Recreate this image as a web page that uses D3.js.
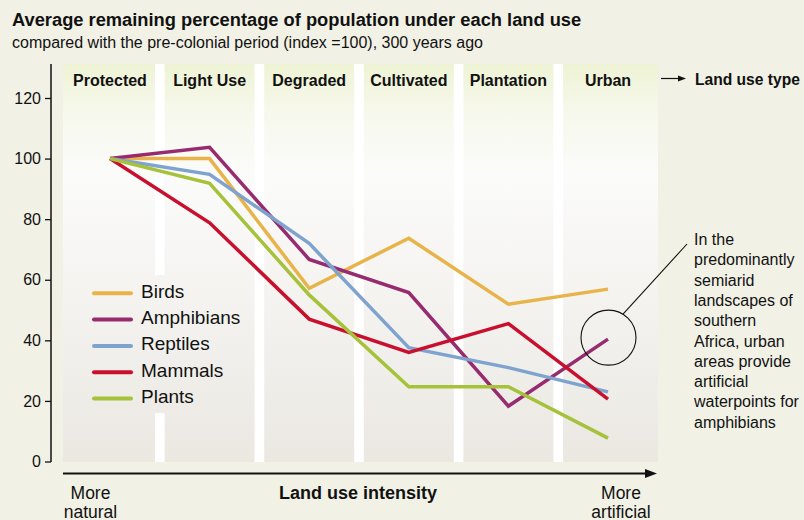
<!DOCTYPE html>
<html>
<head>
<meta charset="utf-8">
<script src="https://cdn.jsdelivr.net/npm/d3@7"></script>
<style>
  body { margin: 0; background: #f2f1e6; }
  svg { display: block; font-family: "Liberation Sans", Arial, sans-serif; }
</style>
</head>
<body>
<svg id="chart"></svg>
<script>
// ---- Data
const land_uses = ["Protected", "Light Use", "Degraded", "Cultivated", "Plantation", "Urban"];
const series_names = ["Birds", "Amphibians", "Reptiles", "Mammals", "Plants"];
const series_colors = ["#e8b449", "#962c6f", "#7fa3cf", "#c8102e", "#a5c23a"];
const birds      = [100, 100,   57.2, 73.7, 51.9, 56.9];
const amphibians = [100, 103.7, 66.7, 55.8, 18.3, 40.4];
const reptiles   = [100, 94.8,  72.0, 37.6, 31.0, 23.0];
const mammals    = [100, 78.8,  47.0, 36.0, 45.5, 20.6];
const plants     = [100, 91.8,  55.0, 24.7, 24.7, 7.7];
const series_values = [birds, amphibians, reptiles, mammals, plants];
const y_ticks = [0, 20, 40, 60, 80, 100, 120];
const note_lines = ["In the", "predominantly", "semiarid", "landscapes of", "southern",
                    "Africa, urban", "areas provide", "artificial", "waterpoints for", "amphibians"];

// ---- Dimensions
const width = 804, height = 520;
const plot = { left: 63, right: 658, top: 64, bottom: 462 };

const svg = d3.select("#chart").attr("width", width).attr("height", height);

// Scales
const x_scale = d3.scalePoint().domain(land_uses).range([110, 608]);
const y_scale = d3.scaleLinear().domain([0, 120]).range([461.5, 98]);

// Background gradient for the land use columns
const defs = svg.append("defs");
const grad = defs.append("linearGradient")
    .attr("id", "colgrad")
    .attr("gradientUnits", "userSpaceOnUse")
    .attr("x1", 0).attr("x2", 0)
    .attr("y1", plot.top).attr("y2", plot.bottom);
grad.append("stop").attr("offset", 0).attr("stop-color", "#eef3d4");
grad.append("stop").attr("offset", 0.12).attr("stop-color", "#f7f8ec");
grad.append("stop").attr("offset", 0.28).attr("stop-color", "#fbfbfa");
grad.append("stop").attr("offset", 1).attr("stop-color", "#ebe8e2");

// White plot area, then columns on top (the gaps stay white)
svg.append("rect")
    .attr("x", plot.left).attr("y", plot.top)
    .attr("width", plot.right - plot.left).attr("height", plot.bottom - plot.top)
    .attr("fill", "#ffffff");

const gap = 4.8;
const col_edges = land_uses.map((d, i) => {
    const c = x_scale(d);
    const x0 = i === 0 ? plot.left : (x_scale(land_uses[i - 1]) + c) / 2 + gap;
    const x1 = i === land_uses.length - 1 ? plot.right : (x_scale(land_uses[i + 1]) + c) / 2 - gap;
    return [x0, x1];
});

svg.selectAll("rect.col")
    .data(land_uses)
    .enter()
    .append("rect")
    .attr("class", "col")
    .attr("x", (d, i) => col_edges[i][0])
    .attr("y", plot.top)
    .attr("width", (d, i) => col_edges[i][1] - col_edges[i][0])
    .attr("height", plot.bottom - plot.top)
    .attr("fill", "url(#colgrad)");

// Column labels
svg.selectAll("text.col-label")
    .data(land_uses)
    .enter()
    .append("text")
    .attr("class", "col-label")
    .attr("x", d => x_scale(d))
    .attr("y", 86)
    .attr("text-anchor", "middle")
    .attr("font-size", 16)
    .attr("font-weight", "bold")
    .attr("fill", "#111")
    .text(d => d);

// "Land use type" arrow and label
svg.append("line")
    .attr("x1", 661).attr("x2", 680).attr("y1", 78.5).attr("y2", 78.5)
    .attr("stroke", "#111").attr("stroke-width", 1.2);
svg.append("path")
    .attr("d", "M678,75.5 L686,78.5 L678,81.5 Z")
    .attr("fill", "#111");
svg.append("text")
    .attr("x", 695).attr("y", 85)
    .attr("font-size", 15.6).attr("font-weight", "bold").attr("fill", "#111")
    .text("Land use type");

// Title and subtitle
svg.append("text")
    .attr("x", 12).attr("y", 26)
    .attr("font-size", 18.3).attr("font-weight", "bold").attr("fill", "#111")
    .text("Average remaining percentage of population under each land use");
svg.append("text")
    .attr("x", 12).attr("y", 47.5)
    .attr("font-size", 16).attr("fill", "#111")
    .text("compared with the pre-colonial period (index =100), 300 years ago");

// Y axis
const y_axis = svg.append("g")
    .attr("class", "y axis")
    .attr("transform", "translate(51,0)")
    .call(d3.axisLeft(y_scale).tickValues(y_ticks).tickSize(6).tickPadding(4));
y_axis.select(".domain").remove();
y_axis.selectAll(".tick line").attr("stroke", "#111").attr("stroke-width", 1.3);
y_axis.selectAll(".tick text")
    .attr("font-size", 16)
    .attr("font-family", "Liberation Sans, Arial, sans-serif")
    .attr("fill", "#111");
svg.append("line")
    .attr("x1", 51).attr("x2", 51)
    .attr("y1", plot.top).attr("y2", y_scale(0) + 0.6)
    .attr("stroke", "#111").attr("stroke-width", 1.5);

// Legend background (covers the white gap like in the original)
const legend_y = [293.3, 319.6, 345.9, 372.2, 398.5];
svg.append("rect")
    .attr("x", 150).attr("y", 275)
    .attr("width", 20).attr("height", 138)
    .attr("fill", "url(#colgrad)");

// Lines
const line_gen = d3.line()
    .x((d, i) => x_scale(land_uses[i]))
    .y(d => y_scale(d));

svg.selectAll("path.series")
    .data(series_values)
    .enter()
    .append("path")
    .attr("class", "series")
    .attr("d", line_gen)
    .attr("fill", "none")
    .attr("stroke", (d, i) => series_colors[i])
    .attr("stroke-width", 3.5)
    .attr("stroke-linejoin", "miter");

// Legend
const legend = svg.append("g").attr("class", "legend");
legend.selectAll("line")
    .data(series_names)
    .enter()
    .append("line")
    .attr("x1", 94).attr("x2", 131)
    .attr("y1", (d, i) => legend_y[i]).attr("y2", (d, i) => legend_y[i])
    .attr("stroke", (d, i) => series_colors[i])
    .attr("stroke-width", 4)
    .attr("stroke-linecap", "round");
legend.selectAll("text")
    .data(series_names)
    .enter()
    .append("text")
    .attr("x", 141)
    .attr("y", (d, i) => legend_y[i] + 4.5)
    .attr("font-size", 19)
    .attr("fill", "#111")
    .text(d => d);

// Annotation circle and leader line
const urban_x = x_scale("Urban"), urban_y = y_scale(amphibians[5]);
const r = 27.5;
svg.append("circle")
    .attr("cx", urban_x + 0.5).attr("cy", urban_y - 1.5).attr("r", r)
    .attr("fill", "none").attr("stroke", "#111").attr("stroke-width", 1.1);
svg.append("line")
    .attr("x1", urban_x + 15).attr("y1", urban_y - 25)
    .attr("x2", 687).attr("y2", 244)
    .attr("stroke", "#111").attr("stroke-width", 1.1);

svg.append("g").selectAll("text")
    .data(note_lines)
    .enter()
    .append("text")
    .attr("x", 694)
    .attr("y", (d, i) => 245 + i * 20.3)
    .attr("font-size", 16)
    .attr("fill", "#111")
    .text(d => d);

// X axis (land use intensity arrow)
svg.append("line")
    .attr("x1", plot.left).attr("x2", 648)
    .attr("y1", 473.5).attr("y2", 473.5)
    .attr("stroke", "#111").attr("stroke-width", 1.8);
svg.append("path")
    .attr("d", "M645,469 L657,473.5 L645,478 Z")
    .attr("fill", "#111");

svg.append("text")
    .attr("x", 358).attr("y", 499)
    .attr("text-anchor", "middle")
    .attr("font-size", 18).attr("font-weight", "bold").attr("fill", "#111")
    .text("Land use intensity");

[["More", "natural", 90.5], ["More", "artificial", 621]].forEach(([a, b, cx]) => {
    svg.append("text")
        .attr("x", cx).attr("y", 498.5)
        .attr("text-anchor", "middle").attr("font-size", 17.5).attr("fill", "#111")
        .text(a);
    svg.append("text")
        .attr("x", cx).attr("y", 517.5)
        .attr("text-anchor", "middle").attr("font-size", 17.5).attr("fill", "#111")
        .text(b);
});
</script>
</body>
</html>
